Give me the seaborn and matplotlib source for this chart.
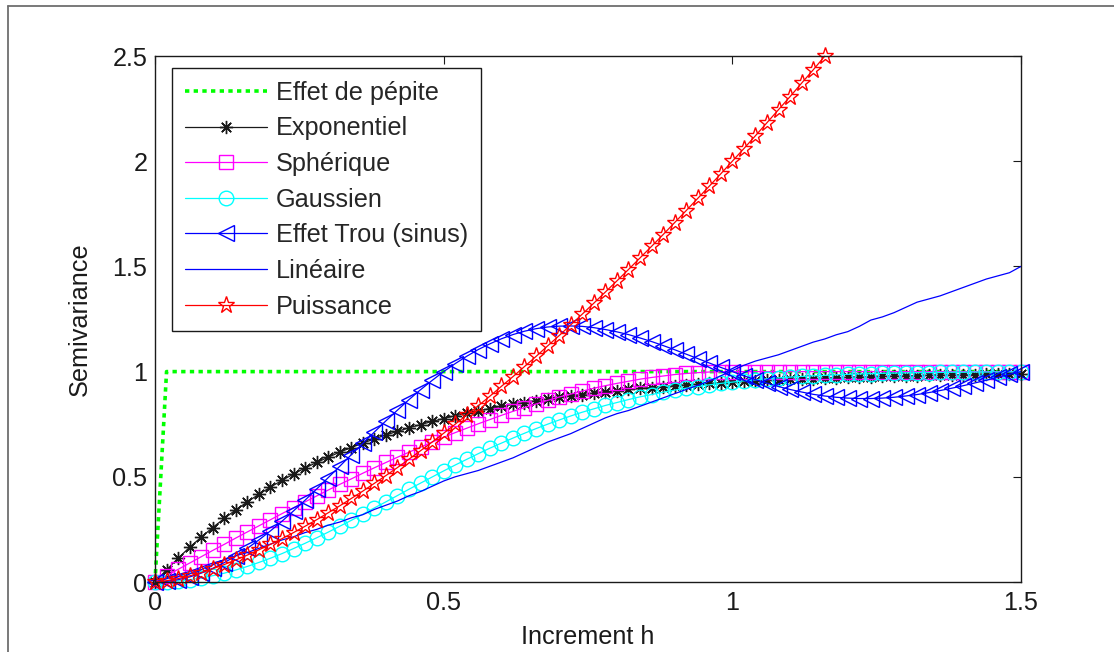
import numpy as np
import pandas as pd
import seaborn as sns
import matplotlib
matplotlib.use("Agg")
import matplotlib.pyplot as plt
from matplotlib.lines import Line2D

# ---------------- data ----------------
h = np.round(np.arange(76) * 0.02, 2)  # increment h, 0 .. 1.5 step 0.02

pepite = [0.0] + [1.0] * 75

exponentiel = [0.000, 0.058, 0.113, 0.165, 0.213, 0.259, 0.302, 0.343, 0.381, 0.417,
               0.451, 0.483, 0.513, 0.542, 0.568, 0.593, 0.617, 0.639, 0.660, 0.680,
               0.699, 0.716, 0.733, 0.748, 0.763, 0.777, 0.790, 0.802, 0.814, 0.824,
               0.835, 0.844, 0.853, 0.862, 0.870, 0.878, 0.885, 0.891, 0.898, 0.904,
               0.909, 0.915, 0.920, 0.924, 0.929, 0.933, 0.937, 0.940, 0.944, 0.947,
               0.950, 0.953, 0.956, 0.958, 0.961, 0.963, 0.965, 0.967, 0.969, 0.971,
               0.973, 0.974, 0.976, 0.977, 0.979, 0.980, 0.981, 0.982, 0.983, 0.984,
               0.985, 0.986, 0.987, 0.987, 0.988, 0.989]

spherique = [0.000, 0.030, 0.060, 0.090, 0.120, 0.150, 0.179, 0.209, 0.238, 0.267,
             0.296, 0.325, 0.353, 0.381, 0.409, 0.437, 0.464, 0.490, 0.517, 0.543,
             0.568, 0.593, 0.617, 0.641, 0.665, 0.688, 0.710, 0.731, 0.752, 0.772,
             0.792, 0.811, 0.829, 0.846, 0.863, 0.879, 0.893, 0.907, 0.921, 0.933,
             0.944, 0.954, 0.964, 0.972, 0.979, 0.986, 0.991, 0.995, 0.998, 0.999,
             1.000, 1.000, 1.000, 1.000, 1.000, 1.000, 1.000, 1.000, 1.000, 1.000,
             1.000, 1.000, 1.000, 1.000, 1.000, 1.000, 1.000, 1.000, 1.000, 1.000,
             1.000, 1.000, 1.000, 1.000, 1.000, 1.000]

gaussien = [0.000, 0.001, 0.005, 0.011, 0.019, 0.030, 0.042, 0.057, 0.074, 0.093,
            0.113, 0.135, 0.159, 0.184, 0.210, 0.237, 0.265, 0.293, 0.322, 0.352,
            0.381, 0.411, 0.441, 0.470, 0.499, 0.528, 0.556, 0.583, 0.610, 0.636,
            0.660, 0.684, 0.707, 0.729, 0.750, 0.770, 0.789, 0.807, 0.823, 0.839,
            0.853, 0.867, 0.880, 0.891, 0.902, 0.912, 0.921, 0.929, 0.937, 0.944,
            0.950, 0.956, 0.961, 0.966, 0.970, 0.974, 0.977, 0.980, 0.982, 0.985,
            0.987, 0.989, 0.990, 0.992, 0.993, 0.994, 0.995, 0.995, 0.996, 0.997,
            0.997, 0.998, 0.998, 0.998, 0.999, 0.999]

trou = [0.000, 0.003, 0.011, 0.024, 0.042, 0.065, 0.092, 0.124, 0.160, 0.200,
        0.243, 0.289, 0.338, 0.389, 0.442, 0.496, 0.550, 0.605, 0.659, 0.713,
        0.766, 0.817, 0.867, 0.914, 0.958, 1.000, 1.038, 1.073, 1.105, 1.132,
        1.156, 1.176, 1.192, 1.204, 1.212, 1.216, 1.217, 1.215, 1.209, 1.200,
        1.189, 1.176, 1.160, 1.143, 1.124, 1.104, 1.083, 1.062, 1.041, 1.020,
        1.000, 0.980, 0.962, 0.945, 0.929, 0.915, 0.903, 0.892, 0.884, 0.878,
        0.874, 0.872, 0.872, 0.874, 0.878, 0.884, 0.891, 0.900, 0.910, 0.921,
        0.933, 0.946, 0.959, 0.973, 0.987, 1.000]

lineaire = [0.000, 0.015, 0.035, 0.050, 0.070, 0.090, 0.105, 0.125, 0.140, 0.160,
            0.180, 0.200, 0.215, 0.235, 0.250, 0.270, 0.285, 0.305, 0.320, 0.345,
            0.365, 0.385, 0.410, 0.430, 0.455, 0.480, 0.500, 0.515, 0.530, 0.550,
            0.570, 0.590, 0.615, 0.640, 0.665, 0.685, 0.705, 0.730, 0.755, 0.780,
            0.800, 0.815, 0.835, 0.855, 0.875, 0.895, 0.915, 0.935, 0.955, 0.980,
            1.005, 1.030, 1.050, 1.065, 1.080, 1.100, 1.120, 1.140, 1.155, 1.175,
            1.190, 1.215, 1.245, 1.260, 1.280, 1.305, 1.330, 1.345, 1.360, 1.380,
            1.400, 1.420, 1.440, 1.455, 1.470, 1.500]

puissance = [0.000, 0.006, 0.016, 0.029, 0.045, 0.063, 0.083, 0.105, 0.128, 0.153,
             0.179, 0.206, 0.235, 0.265, 0.296, 0.329, 0.362, 0.397, 0.432, 0.469,
             0.506, 0.544, 0.584, 0.624, 0.665, 0.707, 0.750, 0.794, 0.838, 0.883,
             0.930, 0.976, 1.024, 1.072, 1.122, 1.171, 1.222, 1.273, 1.325, 1.378,
             1.431, 1.485, 1.540, 1.595, 1.651, 1.708, 1.765, 1.823, 1.881, 1.940,
             2.000, 2.060, 2.121, 2.183, 2.245, 2.307, 2.371, 2.434, 2.499]

labels = ["Effet de pépite", "Exponentiel", "Sphérique", "Gaussien",
          "Effet Trou (sinus)", "Linéaire", "Puissance"]

xticks = [0, 0.5, 1, 1.5]
xticklabels = ["0", "0.5", "1", "1.5"]
yticks = [0, 0.5, 1, 1.5, 2, 2.5]
yticklabels = ["0", "0.5", "1", "1.5", "2", "2.5"]

# ---------------- style ----------------
sns.set_theme(style="white")
plt.rcParams["font.family"] = ["Liberation Sans", "DejaVu Sans"]
FS = 18.2

fig = plt.figure(figsize=(11.14, 6.52), dpi=100)
ax = fig.add_axes([155 / 1114, 1 - 582 / 652, 866 / 1114, 526 / 652])

series = [
    (pepite, dict(color=(0, 1, 0), linestyle=(0, (1.2, 1.2)), linewidth=2.6, marker="")),
    (exponentiel, dict(color="k", marker=(8, 2, 0), markersize=9.5, linewidth=0.9)),
    (spherique, dict(color=(1, 0, 1), marker="s", markersize=10.5, linewidth=0.9)),
    (gaussien, dict(color=(0, 1, 1), marker="o", markersize=10.5, linewidth=0.9)),
    (trou, dict(color=(0, 0, 1), marker="<", markersize=12, linewidth=0.9)),
    (lineaire, dict(color=(0, 0, 1), marker="", linewidth=0.9)),
    (puissance, dict(color=(1, 0, 0), marker="*", markersize=12.5, linewidth=0.9)),
]

for (vals, st), lab in zip(series, labels):
    n = len(vals)
    df = pd.DataFrame({"h": h[:n], "v": vals})
    sns.lineplot(data=df, x="h", y="v", ax=ax, label=lab, estimator=None, sort=False,
                 markerfacecolor="none", markeredgecolor=st["color"],
                 markeredgewidth=1.0, clip_on=False, **st)

ax.set_xlim(0, 1.5)
ax.set_ylim(0, 2.5)
ax.set_xticks(xticks)
ax.set_xticklabels(xticklabels)
ax.set_yticks(yticks)
ax.set_yticklabels(yticklabels)
ax.tick_params(axis="both", direction="in", length=6, width=0.8, colors="k",
               labelsize=FS, top=True, right=True)
ax.tick_params(axis="x", pad=6.5)
ax.tick_params(axis="y", pad=5.5)
for sp in ax.spines.values():
    sp.set_visible(True)
    sp.set_color("k")
    sp.set_linewidth(1.0)

ax.set_xlabel("Increment h", fontsize=FS, color="k", labelpad=7.5)
ax.set_ylabel("Semivariance", fontsize=FS, color="k", labelpad=15)

leg = ax.legend(loc="upper left", bbox_to_anchor=(0.0196, 0.977), borderaxespad=0,
                fontsize=FS, frameon=True, fancybox=False, framealpha=1,
                edgecolor="k", borderpad=0.5, labelspacing=0.46,
                handlelength=3.24, handletextpad=0.36, numpoints=1)
leg.get_frame().set_linewidth(1.0)

# outer figure border (top and left edges)
fig.add_artist(Line2D([8 / 1114, 1.0], [1 - 6 / 652, 1 - 6 / 652],
                      transform=fig.transFigure, color="#6e6e6e", linewidth=1.3))
fig.add_artist(Line2D([8 / 1114, 8 / 1114], [0.0, 1 - 6 / 652],
                      transform=fig.transFigure, color="#6e6e6e", linewidth=1.3))

fig.savefig("out.png", dpi=100)
